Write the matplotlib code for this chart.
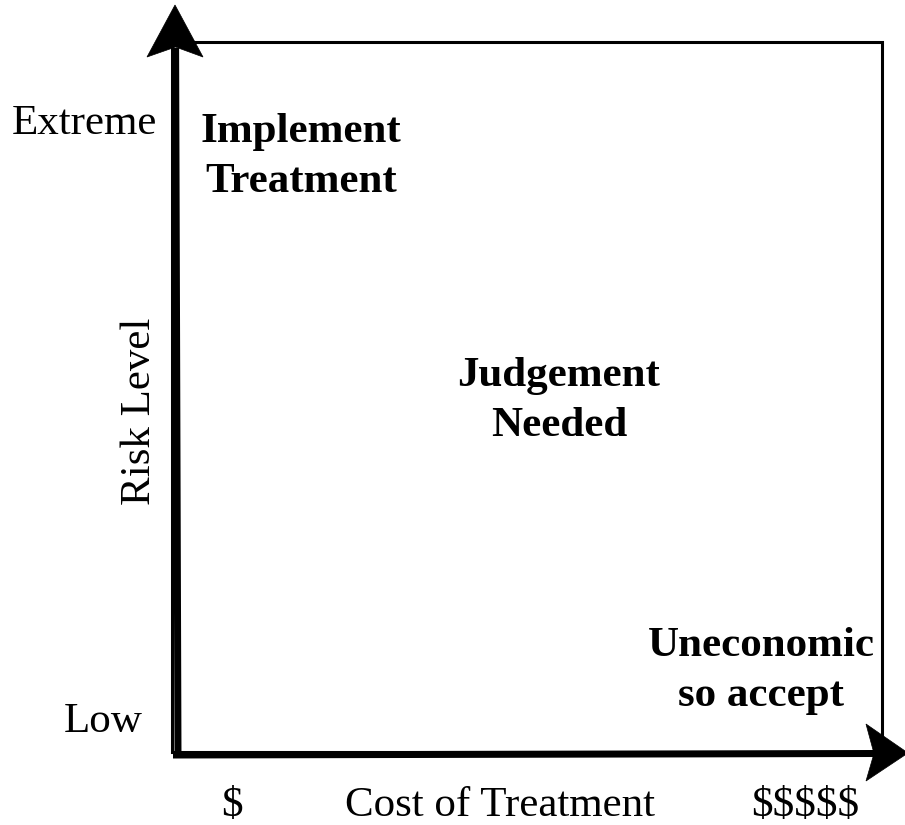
"""Risk level vs cost of treatment diagram."""
import matplotlib
matplotlib.use('Agg')
import matplotlib.pyplot as plt
from matplotlib.patches import Polygon, Rectangle

W, H = 905, 825
FONT = 'Liberation Serif'
FONT_SIZE = 31

# axis labels
y_title = "Risk Level"
y_ticks = ["Extreme", "Low"]
x_title = "Cost of Treatment"
x_ticks = ["$", "$$$$$"]
# region labels
regions = ["Implement\nTreatment", "Judgement\nNeeded", "Uneconomic\nso accept"]

# box edges (pixels)
BOX_L, BOX_T, BOX_R, BOX_B = 172, 42, 881.5, 752
SHAFT = 7 * 72 / 100  # 7 px in points


def arrow_head(ax, tip, left, right, notch):
    ax.add_patch(Polygon([tip, left, notch, right], closed=True,
                         facecolor="black", edgecolor="black",
                         linewidth=0.5, clip_on=False, zorder=3))


def main():
    fig = plt.figure(figsize=(W / 100, H / 100), dpi=100)
    ax = fig.add_axes([0, 0, 1, 1])
    ax.set_xlim(0, W)
    ax.set_ylim(H, 0)
    ax.axis("off")

    ax.add_patch(Rectangle((BOX_L, BOX_T), BOX_R - BOX_L, BOX_B - BOX_T,
                           fill=False, edgecolor="black", linewidth=2.2))

    # y axis arrow
    ax.plot([178, 175.6], [758, 48], color="black", linewidth=SHAFT,
            solid_capstyle="butt", clip_on=False)
    arrow_head(ax, (175, 5), (147, 57), (203, 57), (175.6, 47))
    # x axis arrow
    ax.plot([173, 876], [755, 753.5], color="black", linewidth=SHAFT,
            solid_capstyle="butt", clip_on=False)
    arrow_head(ax, (908, 753), (866, 724), (866, 781), (874, 753.5))

    kw = dict(fontsize=FONT_SIZE, family=FONT, color="black")
    ax.text(157, 124, y_ticks[0], ha="right", va="center", **kw)
    ax.text(143, 722, y_ticks[1], ha="right", va="center", **kw)
    ax.text(140, 411, y_title, ha="center", va="center", rotation=90, **kw)
    ax.text(232, 806, x_ticks[0], ha="center", va="center", **kw)
    ax.text(500, 806, x_title, ha="center", va="center", **kw)
    ax.text(805, 806, x_ticks[1], ha="center", va="center", **kw)

    bkw = dict(fontsize=FONT_SIZE, family=FONT, fontweight="bold",
               color="black", ha="center", va="center", linespacing=1.38,
               multialignment="center")
    ax.text(301, 157, regions[0], **bkw)
    ax.text(559, 401, regions[1], **bkw)
    ax.text(761, 671, regions[2], **bkw)

    fig.savefig("out.png", dpi=100)
    plt.close(fig)


if __name__ == "__main__":
    main()
